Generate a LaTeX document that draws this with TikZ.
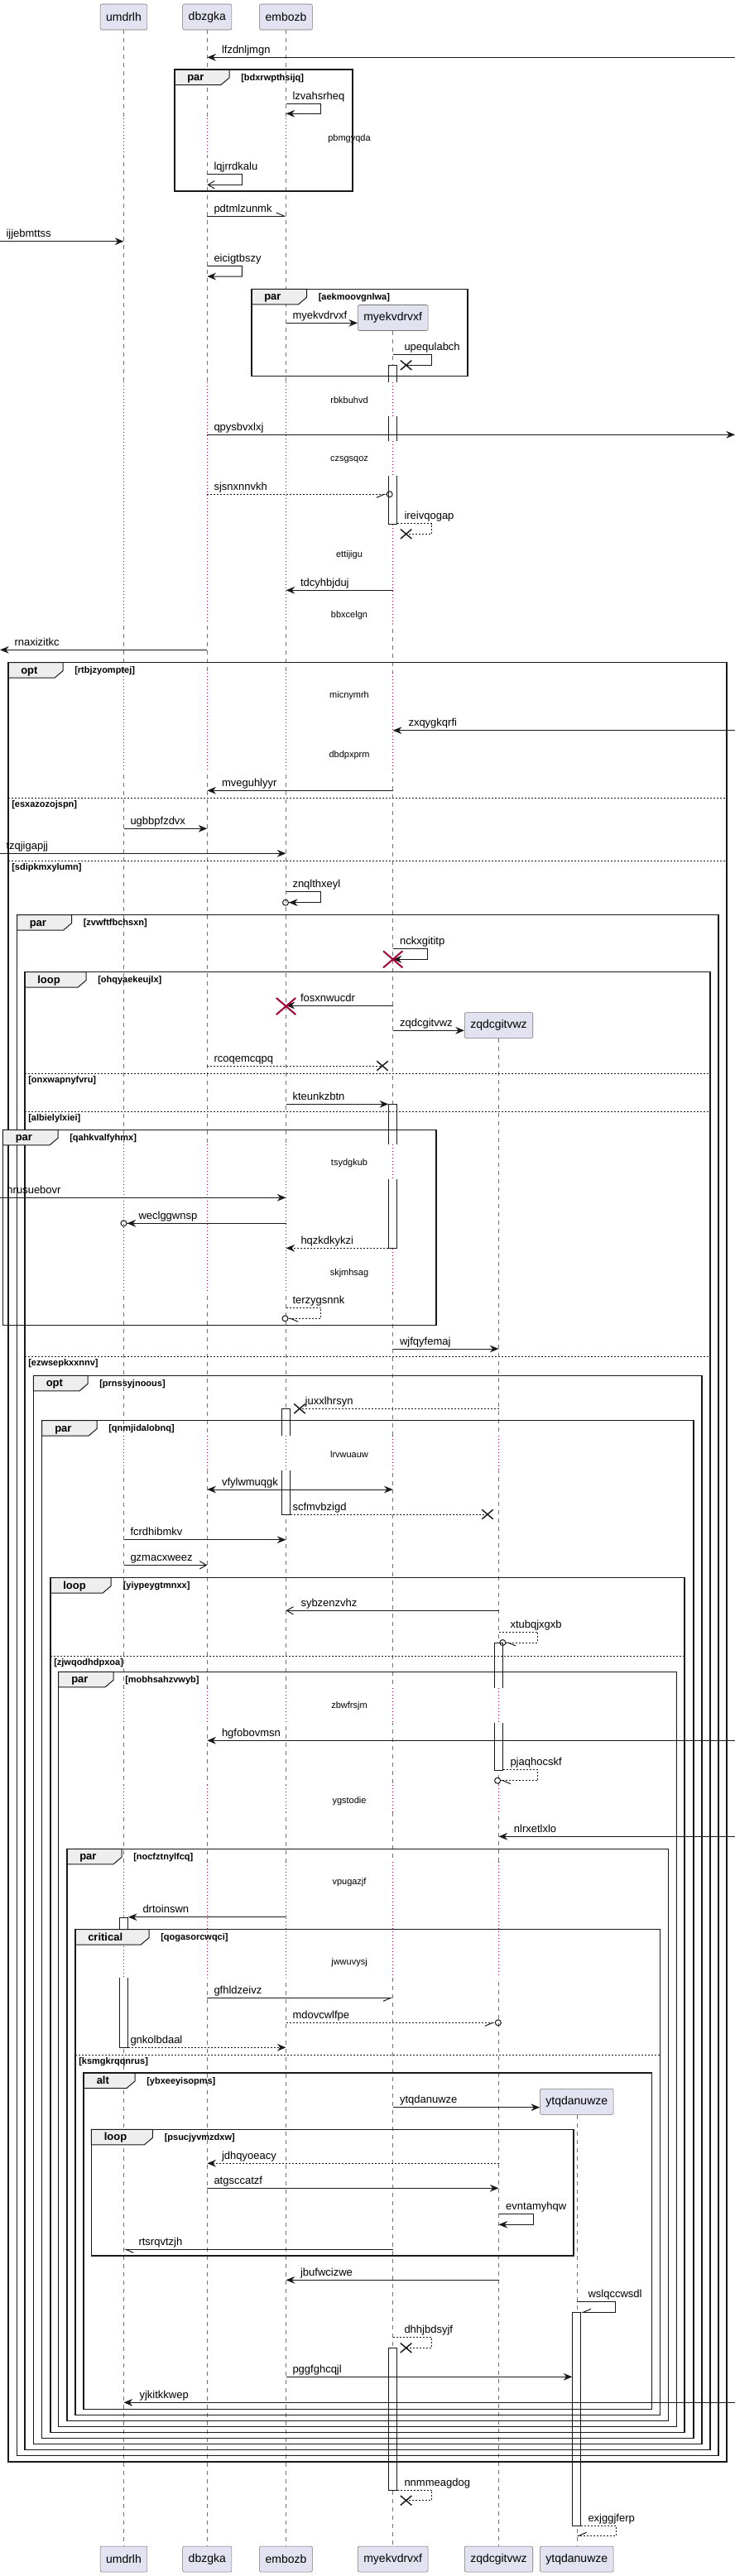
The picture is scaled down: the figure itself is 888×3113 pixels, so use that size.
\documentclass[tikz,border=0pt]{standalone}
\usepackage{fontspec}
\setmainfont{Liberation Sans}
\usepackage{tikz}
\usetikzlibrary{arrows.meta,shapes.misc}
\definecolor{partfill}{HTML}{E2E2F0}
\definecolor{tabfill}{HTML}{EEEEEE}
\definecolor{delayred}{HTML}{A80036}

\begin{document}
\begin{tikzpicture}[x=0.75pt,y=-0.75pt,
    partbox/.style={draw=black!55,fill=partfill,rounded corners=1.5pt,minimum height=23.25pt,inner xsep=5.25pt,inner ysep=0pt,font=\fontsize{10.5pt}{12pt}\selectfont},
    life/.style={draw=black!55,line width=0.4pt,dash pattern=on 3.75pt off 3.75pt},
    delayline/.style={draw=delayred,line width=0.6pt,dash pattern=on 0.6pt off 2.4pt},
    msg/.style={draw=black!90,line width=0.75pt},
    dsh/.style={dash pattern=on 1.5pt off 1.5pt},
    lbl/.style={anchor=base west,inner sep=0pt,font=\fontsize{9.75pt}{11pt}\selectfont},
    pausetxt/.style={inner sep=0pt,font=\fontsize{8.25pt}{10pt}\selectfont},
    grpbox/.style={draw=black!90,line width=1.1pt},
    grptab/.style={draw=black!90,fill=tabfill,line width=0.75pt},
    kw/.style={anchor=base west,inner sep=0pt,font=\fontsize{9.75pt}{11pt}\selectfont\bfseries},
    ttl/.style={anchor=base west,inner sep=0pt,font=\fontsize{8.25pt}{10pt}\selectfont\bfseries},
    sepline/.style={draw=black!90,line width=0.6pt,dash pattern=on 1.5pt off 1.5pt},
    actbar/.style={draw=black!90,fill=white,line width=0.6pt,minimum width=7.5pt,inner sep=0pt,anchor=north},
    xend/.style={cross out,draw=black!90,line width=1.1pt,minimum width=9pt,minimum height=7.5pt,inner sep=0pt},
    killx/.style={cross out,draw=delayred,line width=1.5pt,minimum width=16pt,minimum height=13.5pt,inner sep=0pt},
    fh/.style={-{Stealth[length=8pt,width=6.5pt,inset=2.6pt]}},
    oh/.style={-{Straight Barb[length=6pt,width=7pt]}},
    hl/.style={-{Straight Barb[harpoon,length=7pt,width=6pt]}},
    hr/.style={-{Straight Barb[harpoon,swap,length=7pt,width=6pt]}},
    fhc/.style={-{Stealth[length=8pt,width=6.5pt,inset=2.6pt] Circle[open,length=6pt]}},
    hlc/.style={-{Straight Barb[harpoon,length=7pt,width=6pt] Circle[open,length=6pt]}},
    hrc/.style={-{Straight Barb[harpoon,swap,length=7pt,width=6pt] Circle[open,length=6pt]}},
    bi/.style={{Stealth[length=8pt,width=6.5pt,inset=2.6pt]}-{Stealth[length=8pt,width=6.5pt,inset=2.6pt]}}]
    \useasboundingbox (0,0) rectangle (888,3113);
    \coordinate (lim) at (0,0);
    \coordinate (rim) at (888,0);

    % participants, head and foot
    \node[partbox] (umdrlh) at (149.5,20.5) {umdrlh};
    \node[partbox] (dbzgka) at (250.3,20.5) {dbzgka};
    \node[partbox] (embozb) at (345.5,20.5) {embozb};
    \node[partbox] (myekvdrvxf) at (474.7,384) {myekvdrvxf};
    \node[partbox] (zqdcgitvwz) at (602.5,1239) {zqdcgitvwz};
    \node[partbox] (ytqdanuwze) at (696.8,2539.8) {ytqdanuwze};
    \node[partbox] (umdrlhF) at (149.5,3092.5) {umdrlh};
    \node[partbox] (dbzgkaF) at (250.3,3092.5) {dbzgka};
    \node[partbox] (embozbF) at (345.5,3092.5) {embozb};
    \node[partbox] (myekvdrvxfF) at (474.7,3092.5) {myekvdrvxf};
    \node[partbox] (zqdcgitvwzF) at (602.5,3092.5) {zqdcgitvwz};
    \node[partbox] (ytqdanuwzeF) at (696.8,3092.5) {ytqdanuwze};
    \draw[life] (umdrlh) -- (umdrlhF);
    \draw[life] (dbzgka) -- (dbzgkaF);
    \draw[life] (embozb) -- (embozbF);
    \draw[life] (myekvdrvxf) -- (myekvdrvxfF);
    \draw[life] (zqdcgitvwz) -- (zqdcgitvwzF);
    \draw[life] (ytqdanuwze) -- (ytqdanuwzeF);

    % activation bars
    \node[actbar,minimum height=144pt] (barA) at (myekvdrvxf |- 0,441.3) {};
    \node[actbar,minimum height=130.5pt] (barB) at (myekvdrvxf |- 0,1334.3) {};
    \node[actbar,minimum height=95.8pt] (barC) at (embozb |- 0,1702.3) {};
    \node[actbar,minimum height=115.3pt] (barD) at (zqdcgitvwz |- 0,1985) {};
    \node[actbar,minimum height=118.2pt] (barE) at (umdrlh |- 0,2316.7) {};
    \node[actbar,minimum height=193.5pt] (barF) at (ytqdanuwze |- 0,2794.3) {};
    \node[actbar,minimum height=128.8pt] (barG) at (myekvdrvxf |- 0,2837.3) {};

    % delays: dotted lifelines
    \foreach \p/\a/\b in {
        umdrlh/143.3/186.7, dbzgka/143.3/186.7, embozb/143.3/186.7,
        umdrlh/461.7/753, dbzgka/461.7/753, embozb/461.7/753,
        myekvdrvxf/461.7/503.3, myekvdrvxf/533.3/575, myekvdrvxf/634/753,
        umdrlh/813/933, dbzgka/813/933, embozb/813/933, myekvdrvxf/813/933,
        umdrlh/1383/1562, dbzgka/1383/1562, embozb/1383/1562, myekvdrvxf/1383/1425, myekvdrvxf/1509/1562,
        umdrlh/1735/1777, dbzgka/1735/1777, embozb/1735/1777, myekvdrvxf/1735/1777, zqdcgitvwz/1735/1777,
        umdrlh/2040/2082, dbzgka/2040/2082, embozb/2040/2082, myekvdrvxf/2040/2082, zqdcgitvwz/2040/2082,
        umdrlh/2157/2190, dbzgka/2157/2190, embozb/2157/2190, myekvdrvxf/2157/2190, zqdcgitvwz/2157/2190,
        umdrlh/2250/2316, umdrlh/2340/2390, dbzgka/2250/2390, embozb/2250/2390, myekvdrvxf/2250/2390, zqdcgitvwz/2250/2390}
    {
        \fill[white] (\p |- 0,\a) ++(-6,0) rectangle ++(12,\b-\a);
        \draw[delayline] (\p |- 0,\a) -- (\p |- 0,\b);
    }

    % groups
    \draw[grptab] (211,84) -- (277,84) -- (277,94) -- (267,102.5) -- (211,102.5) -- cycle;
    \draw[grpbox] (211,84) rectangle (426,231);
    \node[kw] (g1k) at (226,97.5) {par};
    \node[ttl] (g1t) at (291,97) {[bdxrwpthsijq]};

    \draw[grptab] (304,349.3) -- (370.5,349.3) -- (370.5,359.3) -- (360.5,367.8) -- (304,367.8) -- cycle;
    \draw[grpbox] (304,349.3) rectangle (565,454.3);
    \node[kw] (g2k) at (319,362.8) {par};
    \node[ttl] (g2t) at (384.5,362.3) {[aekmoovgnlwa]};

    \draw[grptab] (10,800.7) -- (76,800.7) -- (76,810.7) -- (66,819.2) -- (10,819.2) -- cycle;
    \draw[grpbox] (10,800.7) rectangle (878,2975);
    \node[kw] (g3k) at (25,814.2) {opt};
    \node[ttl] (g3t) at (90,813.7) {[rtbjzyomptej]};
    \draw[sepline] (10,964) -- (878,964);
    \node[ttl] (s1) at (14,975.5) {[esxazozojspn]};
    \draw[sepline] (10,1040) -- (878,1040);
    \node[ttl] (s2) at (14,1051.5) {[sdipkmxylumn]};

    \draw[grptab] (20.5,1105.7) -- (86.5,1105.7) -- (86.5,1115.7) -- (76.5,1124.2) -- (20.5,1124.2) -- cycle;
    \draw[grpbox] (20.5,1105.7) rectangle (868,2967.7);
    \node[kw] (g4k) at (35.5,1119.2) {par};
    \node[ttl] (g4t) at (100.5,1118.7) {[zvwftfbchsxn]};

    \draw[grptab] (30,1174.7) -- (104,1174.7) -- (104,1184.7) -- (94,1193.2) -- (30,1193.2) -- cycle;
    \draw[grpbox] (30,1174.7) rectangle (858,2960.7);
    \node[kw] (g5k) at (45,1188.2) {loop};
    \node[ttl] (g5t) at (118,1187.7) {[ohqyaekeujlx]};
    \draw[sepline] (30,1297.3) -- (858,1297.3);
    \node[ttl] (s3) at (34,1308.8) {[onxwapnyfvru]};
    \draw[sepline] (30,1343.3) -- (858,1343.3);
    \node[ttl] (s4) at (34,1354.8) {[albielylxiei]};
    \draw[sepline] (30,1639.3) -- (858,1639.3);
    \node[ttl] (s5) at (34,1650.8) {[ezwsepkxxnnv]};

    \draw[grptab] (3.4,1365.3) -- (70,1365.3) -- (70,1375.3) -- (60,1383.8) -- (3.4,1383.8) -- cycle;
    \draw[grpbox] (3.4,1365.3) rectangle (527,1601.3);
    \node[kw] (g6k) at (18.5,1378.8) {par};
    \node[ttl] (g6t) at (84,1378.3) {[qahkvalfyhmx]};

    \draw[grptab] (40.4,1662.3) -- (106,1662.3) -- (106,1672.3) -- (96,1680.8) -- (40.4,1680.8) -- cycle;
    \draw[grpbox] (40.4,1662.3) rectangle (848,2953.7);
    \node[kw] (g7k) at (55.5,1675.8) {opt};
    \node[ttl] (g7t) at (120,1675.3) {[prnssyjnoous]};

    \draw[grptab] (50.7,1716.7) -- (117,1716.7) -- (117,1726.7) -- (107,1735.2) -- (50.7,1735.2) -- cycle;
    \draw[grpbox] (50.7,1716.7) rectangle (838,2946.7);
    \node[kw] (g8k) at (66,1730.2) {par};
    \node[ttl] (g8t) at (131,1729.7) {[qnmjidalobnq]};

    \draw[grptab] (61,1906.7) -- (134,1906.7) -- (134,1916.7) -- (124,1925.2) -- (61,1925.2) -- cycle;
    \draw[grpbox] (61,1906.7) rectangle (827,2939.3);
    \node[kw] (g9k) at (76,1920.2) {loop};
    \node[ttl] (g9t) at (148.5,1919.7) {[yiypeygtmnxx]};
    \draw[sepline] (61,2001.3) -- (827,2001.3);
    \node[ttl] (s6) at (65,2012.8) {[zjwqodhdpxoa]};

    \draw[grptab] (70.6,2020.3) -- (137,2020.3) -- (137,2030.3) -- (127,2038.8) -- (70.6,2038.8) -- cycle;
    \draw[grpbox] (70.6,2020.3) rectangle (817.3,2932.7);
    \node[kw] (g10k) at (86,2033.8) {par};
    \node[ttl] (g10t) at (151,2033.3) {[mobhsahzvwyb]};

    \draw[grptab] (81,2234.3) -- (147,2234.3) -- (147,2244.3) -- (137,2252.8) -- (81,2252.8) -- cycle;
    \draw[grpbox] (81,2234.3) rectangle (807.6,2925.3);
    \node[kw] (g11k) at (96,2247.8) {par};
    \node[ttl] (g11t) at (161,2247.3) {[nocfztnylfcq]};

    \draw[grptab] (91,2331.7) -- (180,2331.7) -- (180,2341.7) -- (170,2350.2) -- (91,2350.2) -- cycle;
    \draw[grpbox] (91,2331.7) rectangle (797.4,2918.3);
    \node[kw] (g12k) at (106,2345.2) {critical};
    \node[ttl] (g12t) at (194,2344.7) {[qogasorcwqci]};
    \draw[sepline] (91,2483.3) -- (797.4,2483.3);
    \node[ttl] (s7) at (95,2494.8) {[ksmgkrqqnrus]};

    \draw[grptab] (101,2505) -- (163,2505) -- (163,2515) -- (153,2523.5) -- (101,2523.5) -- cycle;
    \draw[grpbox] (101,2505) rectangle (787.7,2911.3);
    \node[kw] (g13k) at (116.5,2518.5) {alt};
    \node[ttl] (g13t) at (177,2518) {[ybxeeyisopms]};

    \draw[grptab] (110.4,2573.3) -- (184.4,2573.3) -- (184.4,2583.3) -- (174.4,2591.8) -- (110.4,2591.8) -- cycle;
    \draw[grpbox] (110.4,2573.3) rectangle (693,2726);
    \node[kw] (g14k) at (125.5,2586.8) {loop};
    \node[ttl] (g14t) at (198.5,2586.3) {[psucjyvmzdxw]};

    % messages
    \draw[msg,fh] (rim |- 0,69.3) -- (dbzgka |- 0,69.3) node[lbl] (t1) at (267.5,64.3) {lfzdnljmgn};
    \draw[msg,fh] (embozb |- 0,125.3) -- ++(42,0) -- ++(0,12) -- (embozb |- 0,137.3) node[lbl] (t2) at (353,120.3) {lzvahsrheq};
    \node[pausetxt] (d1) at (422,168) {pbmgyqda};
    \draw[msg,oh] (dbzgka |- 0,210.3) -- ++(42,0) -- ++(0,13) -- (dbzgka |- 0,223.3) node[lbl] (t3) at (258,205.3) {lqjrrdkalu};
    \draw[msg,hl] (dbzgka |- 0,261) -- (embozb |- 0,261) node[lbl] (t4) at (258,256) {pdtmlzunmk};
    \draw[msg,fh] (lim |- 0,291.7) -- (umdrlh |- 0,291.7) node[lbl] (t5) at (7,286.7) {ijjebmttss};
    \draw[msg,fh] (dbzgka |- 0,321.3) -- ++(42,0) -- ++(0,12.7) -- (dbzgka |- 0,334) node[lbl] (t6) at (258,316.3) {eicigtbszy};
    \draw[msg,fh] (embozb |- 0,390.3) -- (myekvdrvxf.west |- 0,390.3) node[lbl] (t7) at (353,385.3) {myekvdrvxf};
    \node[xend] (xe1) at (490.6,441.3) {};
    \draw[msg] (myekvdrvxf |- 0,428.3) -- ++(46.6,0) -- ++(0,13) -- (xe1.center) node[lbl] (t8) at (488,423.3) {upequlabch};
    \node[pausetxt] (d2) at (422,483.3) {rbkbuhvd};
    \draw[msg,fh] (dbzgka |- 0,525.3) -- (rim |- 0,525.3) node[lbl] (t9) at (258,520.3) {qpysbvxlxj};
    \node[pausetxt] (d3) at (422,555.7) {czsgsqoz};
    \draw[msg,dsh,hrc] (dbzgka |- 0,597.3) -- (barA |- 0,597.3) node[lbl] (t10) at (258,592.3) {sjsnxnnvkh};
    \node[xend] (xe2) at (490.6,645.3) {};
    \draw[msg,dsh] (barA.east |- 0,632.7) -- ++(41.5,0) -- ++(0,12.6) -- (xe2.center) node[lbl] (t11) at (488,627.7) {ireivqogap};
    \node[pausetxt] (d4) at (422,670.7) {ettijigu};
    \draw[msg,fh] (myekvdrvxf |- 0,713.3) -- (embozb |- 0,713.3) node[lbl] (t12) at (362.6,708.3) {tdcyhbjduj};
    \node[pausetxt] (d5) at (422,743.3) {bbxcelgn};
    \draw[msg,fh] (dbzgka |- 0,785.3) -- (lim |- 0,785.3) node[lbl] (t13) at (17,780.3) {rnaxizitkc};
    \node[pausetxt] (d6) at (422,841) {micnymrh};
    \draw[msg,fh] (rim |- 0,882.7) -- (myekvdrvxf |- 0,882.7) node[lbl] (t14) at (493,877.7) {zxqygkqrfi};
    \node[pausetxt] (d7) at (422,912.7) {dbdpxprm};
    \draw[msg,fh] (myekvdrvxf |- 0,955.3) -- (dbzgka |- 0,955.3) node[lbl] (t15) at (267.5,950.3) {mveguhlyyr};
    \draw[msg,fh] (umdrlh |- 0,1001.3) -- (dbzgka |- 0,1001.3) node[lbl] (t16) at (157,996.3) {ugbbpfzdvx};
    \draw[msg,fh] (lim |- 0,1031.3) -- (embozb |- 0,1031.3) node[lbl] (t17) at (7,1026.3) {tzqjigapjj};
    \draw[msg,fhc] (embozb |- 0,1077.3) -- ++(42,0) -- ++(0,13.4) -- ++(-46.5,0) node[lbl] (t18) at (353,1072.3) {znqlthxeyl};
    \draw[msg,fh] (myekvdrvxf |- 0,1146.7) -- ++(42,0) -- ++(0,12.6) -- (myekvdrvxf |- 0,1159.3) node[lbl] (t19) at (482.6,1141.7) {nckxgititp};
    \node[killx] (k1) at (myekvdrvxf |- 0,1159.3) {};
    \draw[msg,fh] (myekvdrvxf |- 0,1215) -- (embozb |- 0,1215) node[lbl] (t20) at (362.6,1210) {fosxnwucdr};
    \node[killx] (k2) at (embozb |- 0,1216) {};
    \draw[msg,fh] (myekvdrvxf |- 0,1245.3) -- (zqdcgitvwz.west |- 0,1245.3) node[lbl] (t21) at (482.6,1240.3) {zqdcgitvwz};
    \node[xend] (xe3) at (462,1288) {};
    \draw[msg,dsh] (dbzgka |- 0,1288) -- (xe3.center) node[lbl] (t22) at (258,1283) {rcoqemcqpq};
    \draw[msg,fh] (embozb |- 0,1334.3) -- (barB.west |- 0,1334.3) node[lbl] (t23) at (353,1329.3) {kteunkzbtn};
    \node[pausetxt] (d8) at (422,1406) {tsydgkub};
    \draw[msg,fh] (lim |- 0,1447.3) -- (embozb |- 0,1447.3) node[lbl] (t24) at (8,1442.3) {hrusuebovr};
    \draw[msg,fhc] (embozb |- 0,1478.3) -- ([xshift=-3pt]umdrlh |- 0,1478.3) node[lbl] (t25) at (167,1473.3) {weclggwnsp};
    \draw[msg,dsh,fh] (barB.west |- 0,1508.3) -- (embozb |- 0,1508.3) node[lbl] (t26) at (363,1503.3) {hqzkdkykzi};
    \node[pausetxt] (d9) at (422,1538.7) {skjmhsag};
    \draw[msg,dsh,hlc] (embozb |- 0,1580.3) -- ++(42,0) -- ++(0,13) -- ++(-47,0) node[lbl] (t27) at (353,1575.3) {terzygsnnk};
    \draw[msg,fh] (myekvdrvxf |- 0,1630) -- (zqdcgitvwz |- 0,1630) node[lbl] (t28) at (482.6,1625) {wjfqyfemaj};
    \node[xend] (xe4) at (362,1702.3) {};
    \draw[msg,dsh] (zqdcgitvwz |- 0,1702.3) -- (xe4.center) node[lbl] (t29) at (368.2,1697.3) {juxxlhrsyn};
    \node[pausetxt] (d10) at (422,1757.3) {lrvwuauw};
    \draw[msg,bi] (dbzgka |- 0,1800) -- (myekvdrvxf |- 0,1800) node[lbl] (t30) at (267.5,1795) {vfylwmuqgk};
    \node[xend] (xe5) at (589,1830) {};
    \draw[msg,dsh] (barC.east |- 0,1830) -- (xe5.center) node[lbl] (t31) at (353,1825) {scfmvbzigd};
    \draw[msg,fh] (umdrlh |- 0,1860.7) -- (embozb |- 0,1860.7) node[lbl] (t32) at (157,1855.7) {fcrdhibmkv};
    \draw[msg,oh] (umdrlh |- 0,1891.3) -- (dbzgka |- 0,1891.3) node[lbl] (t33) at (157,1886.3) {gzmacxweez};
    \draw[msg,oh] (zqdcgitvwz |- 0,1946.3) -- (embozb |- 0,1946.3) node[lbl] (t34) at (363,1941.3) {sybzenzvhz};
    \draw[msg,dsh,hlc] (zqdcgitvwz |- 0,1972.3) -- ++(47,0) -- ++(0,12.7) -- ++(-46.2,0) node[lbl] (t35) at (616,1967.3) {xtubqjxgxb};
    \node[pausetxt] (d11) at (422,2061.7) {zbwfrsjm};
    \draw[msg,fh] (rim |- 0,2103.3) -- (dbzgka |- 0,2103.3) node[lbl] (t36) at (267.5,2098.3) {hgfobovmsn};
    \draw[msg,dsh,hlc] (barD.east |- 0,2138.7) -- ++(42,0) -- ++(0,13) -- ++(-52.8,0) node[lbl] (t37) at (616,2133.7) {pjaqhocskf};
    \node[pausetxt] (d12) at (422,2176.7) {ygstodie};
    \draw[msg,fh] (rim |- 0,2219.3) -- (zqdcgitvwz |- 0,2219.3) node[lbl] (t38) at (620.4,2214.3) {nlrxetlxlo};
    \node[pausetxt] (d13) at (422,2275) {vpugazjf};
    \draw[msg,fh] (embozb |- 0,2316.7) -- (barE.east |- 0,2316.7) node[lbl] (t39) at (172,2311.7) {drtoinswn};
    \node[pausetxt] (d14) at (422,2371.7) {jwwuvysj};
    \draw[msg,hr] (dbzgka |- 0,2414.3) -- (myekvdrvxf |- 0,2414.3) node[lbl] (t40) at (258,2409.3) {gfhldzeivz};
    \draw[msg,dsh,hrc] (embozb |- 0,2444.3) -- ([xshift=2.5pt]zqdcgitvwz |- 0,2444.3) node[lbl] (t41) at (353,2439.3) {mdovcwlfpe};
    \draw[msg,dsh,fh] (barE.east |- 0,2474.3) -- (embozb |- 0,2474.3) node[lbl] (t42) at (157,2469.3) {gnkolbdaal};
    \draw[msg,fh] (myekvdrvxf |- 0,2546.7) -- (ytqdanuwze.west |- 0,2546.7) node[lbl] (t43) at (482.6,2541.7) {ytqdanuwze};
    \draw[msg,dsh,fh] (zqdcgitvwz |- 0,2614.3) -- (dbzgka |- 0,2614.3) node[lbl] (t44) at (267.5,2609.3) {jdhqyoeacy};
    \draw[msg,fh] (dbzgka |- 0,2644.3) -- (zqdcgitvwz |- 0,2644.3) node[lbl] (t45) at (258,2639.3) {atgsccatzf};
    \draw[msg,fh] (zqdcgitvwz |- 0,2675.3) -- ++(42,0) -- ++(0,13) -- (zqdcgitvwz |- 0,2688.3) node[lbl] (t46) at (610.7,2670.3) {evntamyhqw};
    \draw[msg,hl] (myekvdrvxf |- 0,2718.3) -- (umdrlh |- 0,2718.3) node[lbl] (t47) at (167,2713.3) {rtsrqvtzjh};
    \draw[msg,fh] (zqdcgitvwz |- 0,2755.3) -- (embozb |- 0,2755.3) node[lbl] (t48) at (362.6,2750.3) {jbufwcizwe};
    \draw[msg,hr] (ytqdanuwze |- 0,2781.7) -- ++(47,0) -- ++(0,12.6) -- (barF.east |- 0,2794.3) node[lbl] (t49) at (710,2776.7) {wslqccwsdl};
    \node[xend] (xe6) at (490.6,2837.3) {};
    \draw[msg,dsh] (myekvdrvxf |- 0,2824.3) -- ++(46.6,0) -- ++(0,13) -- (xe6.center) node[lbl] (t50) at (488,2819.3) {dhhjbdsyjf};
    \draw[msg,fh] (embozb |- 0,2872.3) -- (barF.west |- 0,2872.3) node[lbl] (t51) at (353,2867.3) {pggfghcqjl};
    \draw[msg,fh] (rim |- 0,2903.3) -- (umdrlh |- 0,2903.3) node[lbl] (t52) at (168,2898.3) {yjkitkkwep};
    \node[xend] (xe7) at (490.6,3021.7) {};
    \draw[msg,dsh] (barG.east |- 0,3009) -- ++(41.6,0) -- ++(0,12.7) -- (xe7.center) node[lbl] (t53) at (488,3004) {nnmmeagdog};
    \draw[msg,dsh,hr] (barF.east |- 0,3052.3) -- ++(42.2,0) -- ++(0,12) -- (ytqdanuwze |- 0,3064.3) node[lbl] (t54) at (710,3047.3) {exjggjferp};
\end{tikzpicture}
\end{document}
